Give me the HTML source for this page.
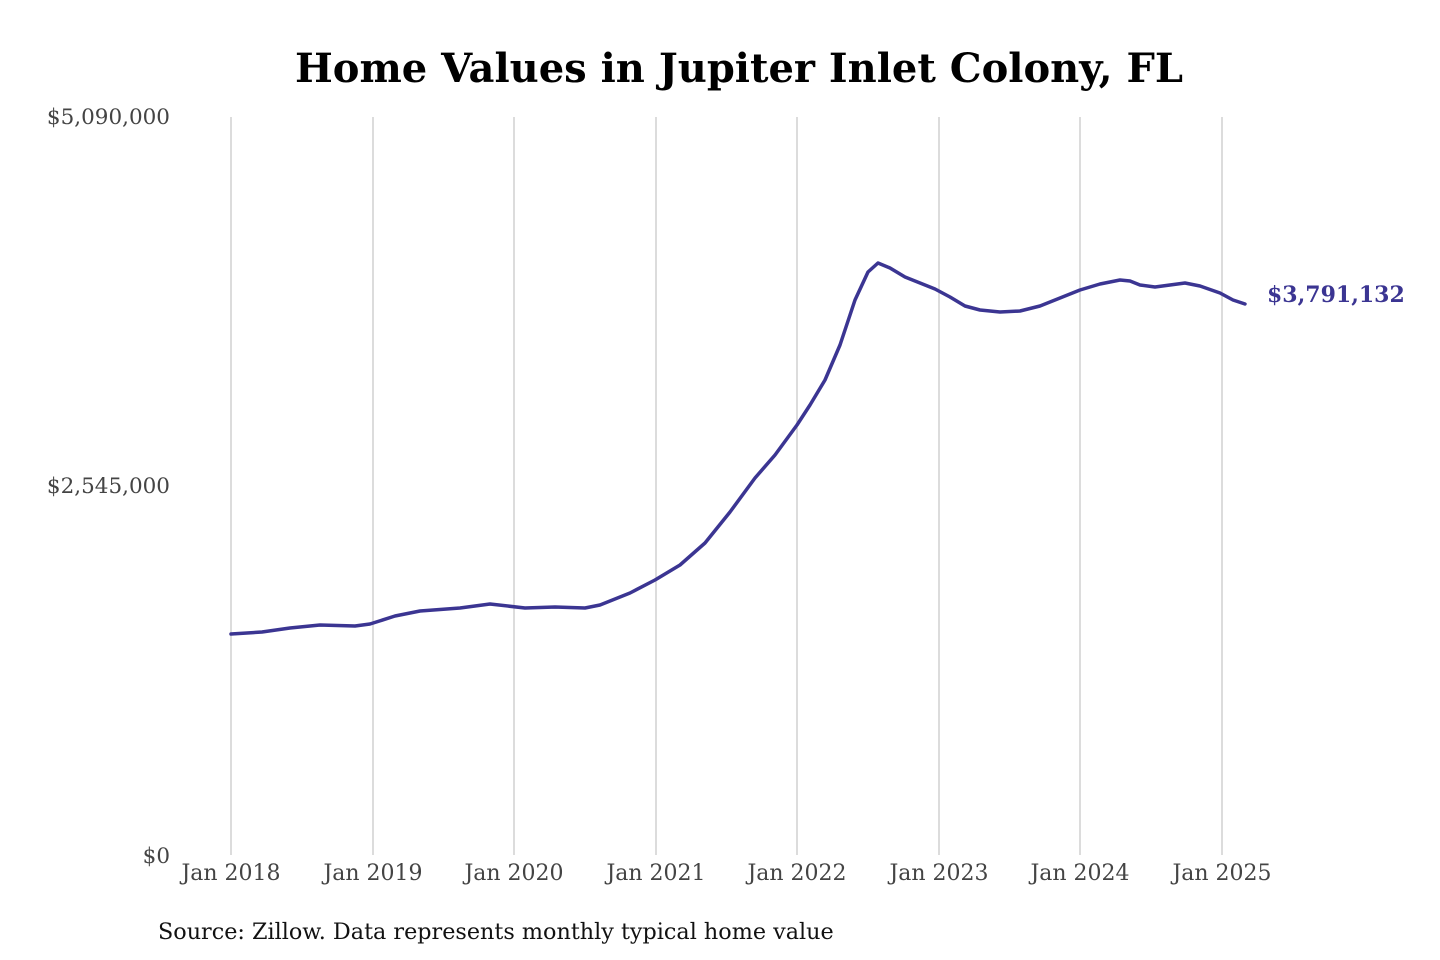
<!DOCTYPE html>
<html><head><meta charset="utf-8"><style>
html,body{margin:0;padding:0;background:#fff;}
svg{display:block;}
</style></head><body>
<svg width="1440" height="960" viewBox="0 0 1440 960" xmlns="http://www.w3.org/2000/svg">
<rect width="1440" height="960" fill="#fff"/>
<text x="739" y="82" text-anchor="middle" font-family="DejaVu Serif, Liberation Serif, serif" font-weight="bold" font-size="40" fill="#000">Home Values in Jupiter Inlet Colony, FL</text>
<g stroke="#c4c4c4" stroke-width="1.2">
<line x1="231" y1="117" x2="231" y2="855"/>
<line x1="373" y1="117" x2="373" y2="855"/>
<line x1="514" y1="117" x2="514" y2="855"/>
<line x1="656" y1="117" x2="656" y2="855"/>
<line x1="797" y1="117" x2="797" y2="855"/>
<line x1="939" y1="117" x2="939" y2="855"/>
<line x1="1080" y1="117" x2="1080" y2="855"/>
<line x1="1222" y1="117" x2="1222" y2="855"/>
</g>
<g font-family="DejaVu Serif, Liberation Serif, serif" fill="#444">
<g font-size="21.5">
<text x="170" y="124" text-anchor="end">$5,090,000</text>
<text x="170" y="493" text-anchor="end">$2,545,000</text>
<text x="170" y="863" text-anchor="end">$0</text>
</g>
<g text-anchor="middle" font-size="22">
<text x="231" y="880">Jan 2018</text>
<text x="373" y="880">Jan 2019</text>
<text x="514" y="880">Jan 2020</text>
<text x="656" y="880">Jan 2021</text>
<text x="797" y="880">Jan 2022</text>
<text x="939" y="880">Jan 2023</text>
<text x="1080" y="880">Jan 2024</text>
<text x="1222" y="880">Jan 2025</text>
</g>
</g>
<polyline fill="none" stroke="#3b3592" stroke-width="3.5" stroke-linejoin="round" stroke-linecap="round"
points="231,634 262,632 290,628 320,625 355,626 370,624 395,616 420,611 460,608 490,604 525,608 555,607 585,608 600,605 630,593 655,580 680,565 705,543 730,512 755,478 775,455 797,425 810,405 825,380 840,345 855,300 868,272 878,263 890,268 905,277 920,283 935,289 950,297 965,306 980,310 1000,312 1020,311 1040,306 1060,298 1080,290 1100,284 1120,280 1130,281 1140,285 1155,287 1170,285 1185,283 1200,286 1220,293 1233,300 1245,304"/>
<text x="1267" y="302" font-family="DejaVu Serif, Liberation Serif, serif" font-weight="bold" font-size="22" fill="#3b3592">$3,791,132</text>
<text x="158" y="939" font-family="DejaVu Serif, Liberation Serif, serif" font-size="22.3" fill="#111">Source: Zillow. Data represents monthly typical home value</text>
</svg>
</body></html>
